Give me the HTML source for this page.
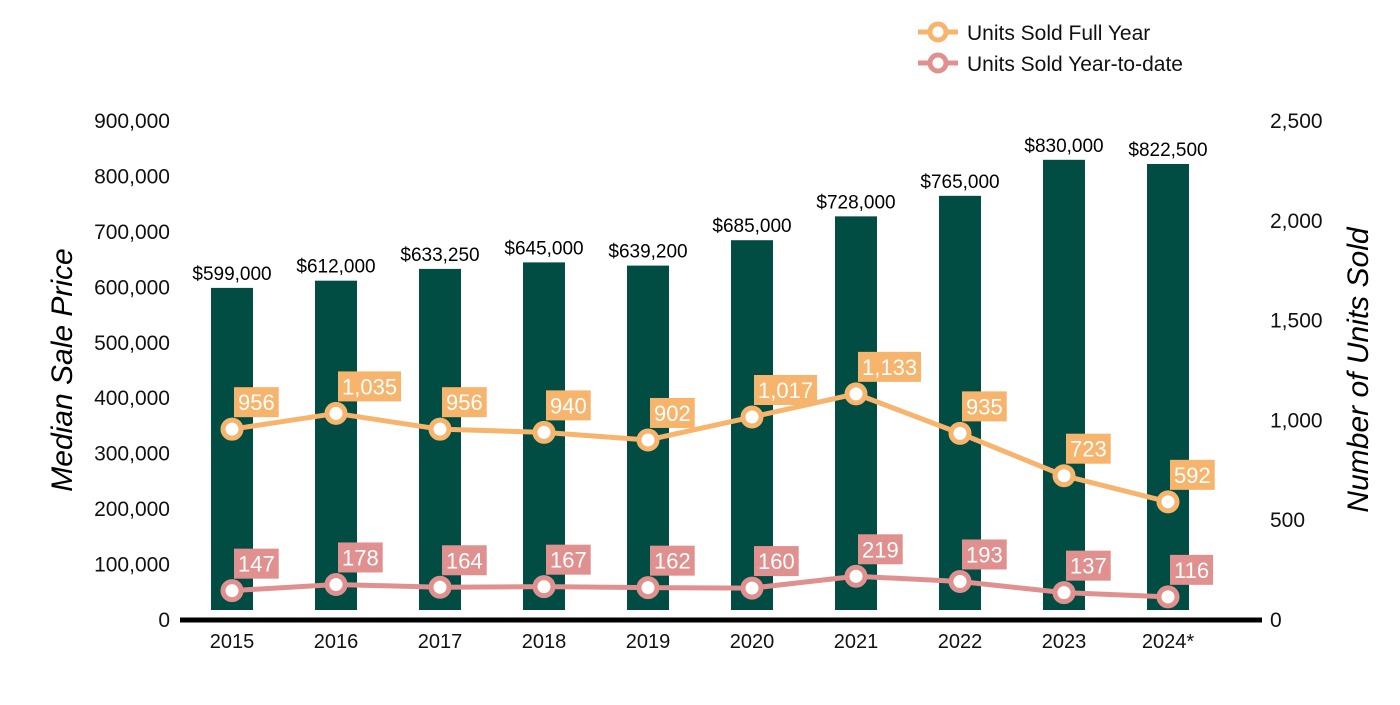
<!DOCTYPE html>
<html><head><meta charset="utf-8"><style>
body{margin:0;background:#fff;}
svg text{font-family:"Liberation Sans",Arial,sans-serif;}
</style></head><body>
<svg id="chart" width="1400" height="700" viewBox="0 0 1400 700" xmlns="http://www.w3.org/2000/svg">
<g id="legend">
  <g>
    <line x1="918" y1="32" x2="958" y2="32" stroke="#F6B46C" stroke-width="5"/>
    <circle cx="938" cy="32" r="8" fill="#fff" stroke="#F6B46C" stroke-width="5"/>
    <text x="967" y="40" font-size="21" fill="#111">Units Sold Full Year</text>
  </g>
  <g>
    <line x1="918" y1="63" x2="958" y2="63" stroke="#E0918F" stroke-width="5"/>
    <circle cx="938" cy="63" r="8" fill="#fff" stroke="#E0918F" stroke-width="5"/>
    <text x="967" y="71" font-size="21" fill="#111">Units Sold Year-to-date</text>
  </g>
</g>
<text transform="translate(72,370) rotate(-90)" text-anchor="middle" font-size="30" font-style="italic" fill="#000">Median Sale Price</text>
<text transform="translate(1368,370) rotate(-90)" text-anchor="middle" font-size="30" font-style="italic" fill="#000">Number of Units Sold</text>
<g id="leftTicks"></g>
<g id="rightTicks"></g>
<g id="bars"></g>
<line x1="180" y1="620" x2="1262" y2="620" stroke="#000" stroke-width="5"/>
<g id="xTicks"></g>
<g id="lines"></g>
</svg>
<script>
const years=["2015","2016","2017","2018","2019","2020","2021","2022","2023","2024*"];
const prices=[599000,612000,633250,645000,639200,685000,728000,765000,830000,822500];
const fullYear=[956,1035,956,940,902,1017,1133,935,723,592];
const ytd=[147,178,164,167,162,160,219,193,137,116];
const leftTicks=[0,100000,200000,300000,400000,500000,600000,700000,800000,900000];
const rightTicks=[0,500,1000,1500,2000,2500];

const NS="http://www.w3.org/2000/svg";
function mk(tag,attrs,parent,txt){const e=document.createElementNS(NS,tag);for(const k in attrs)e.setAttribute(k,attrs[k]);if(txt!==undefined)e.textContent=txt;parent.appendChild(e);return e;}
const y0=620,yTop=121;
const yL=v=>y0-(v/900000)*(y0-yTop);
const yR=v=>y0-(v/2500)*(y0-yTop);
const xC=i=>232+i*104;
const fmt=v=>v.toLocaleString('en-US');

const lt=document.getElementById('leftTicks');
leftTicks.forEach(v=>{const t=mk('text',{x:170,y:yL(v)+7,'text-anchor':'end','font-size':21,fill:'#111'},lt,fmt(v));

});
const rt=document.getElementById('rightTicks');
rightTicks.forEach(v=>{const t=mk('text',{x:1270,y:yR(v)+7,'font-size':21,fill:'#111'},rt,fmt(v));

});
const xt=document.getElementById('xTicks');
years.forEach((y,i)=>{const t=mk('text',{x:xC(i),y:648,'text-anchor':'middle','font-size':20,fill:'#111'},xt,y);

});

const bars=document.getElementById('bars');
prices.forEach((p,i)=>{
  const r=mk('rect',{x:xC(i)-21,y:yL(p),width:42,height:610-yL(p),fill:'#014D43'},bars);
  
  
  const t=mk('text',{x:xC(i),y:yL(p)-8,'text-anchor':'middle','font-size':19,fill:'#000'},bars,'$'+fmt(p));
  
  
});

const lines=document.getElementById('lines');
function series(vals,color,name){
  const g=mk('g',{},lines);
  
  
  mk('polyline',{points:vals.map((v,i)=>xC(i)+','+yR(v)).join(' '),fill:'none',stroke:color,'stroke-width':5,'stroke-linejoin':'round'},g);
  vals.forEach((v,i)=>{
    const c=mk('circle',{cx:xC(i),cy:yR(v),r:9,fill:'#fff',stroke:color,'stroke-width':5},g);
    
    
  });
  vals.forEach((v,i)=>{
    const bx=xC(i)+2, by=yR(v)-12-30;
    const rect=mk('rect',{x:bx,y:by,width:40,height:30,fill:color},g);
    
    
    const t=mk('text',{x:bx+4,y:by+23,'font-size':22,fill:'#fff'},g,fmt(v));
    
    
    const w=t.getComputedTextLength();
    rect.setAttribute('width',w+8);
  });
}
series(fullYear,'#F6B46C','full-year-line');
series(ytd,'#E0918F','ytd-line');
</script>
</body></html>
